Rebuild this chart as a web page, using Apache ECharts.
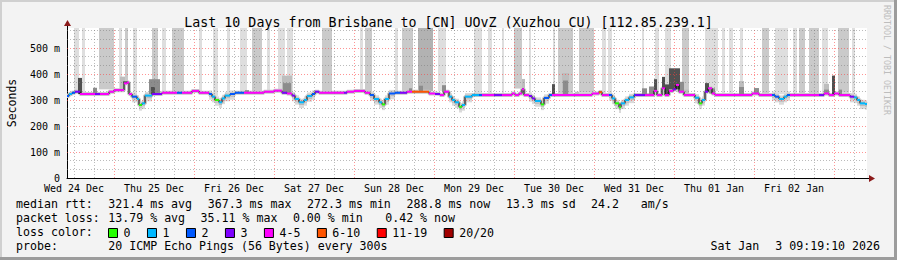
<!DOCTYPE html>
<html><head><meta charset="utf-8">
<script src="https://cdn.jsdelivr.net/npm/echarts@6/dist/echarts.min.js"></script>
<style>html,body{margin:0;padding:0;background:#f3f3f3}#c{width:897px;height:260px}</style>
</head><body><div id="c"></div>
<script>
// ---------- data ----------
const TITLE = 'Last 10 Days from Brisbane to [CN] UOvZ (Xuzhou CU) [112.85.239.1]';
const dayLabels = ['Wed 24 Dec','Thu 25 Dec','Fri 26 Dec','Sat 27 Dec','Sun 28 Dec','Mon 29 Dec','Tue 30 Dec','Wed 31 Dec','Thu 01 Jan','Fri 02 Jan'];
const windowHours = 240;          // 10 days
const firstNoon = 2.1;            // hours after window start (Wed 24 Dec 12:00)
const firstMidnight = 14.1;       // Thu 25 Dec 00:00
const yMax = 577;                 // ms
const yMajor = [100, 200, 300, 400, 500];
const yMinor = [33.3, 66.7, 133.3, 166.7, 233.3, 266.7, 333.3, 366.7, 433.3, 466.7, 533.3, 566.7];
const lossNames = ['0','1','2','3','4-5','6-10','11-19','20/20'];
const lossColors = ['#26ff00','#00b8ff','#0059ff','#7e00ff','#ff00ff','#ff5500','#ff0000','#a10000'];

// median rtt steps: [hour since start, median ms, loss class index]
const medianSteps = [
 [0.0,315,2],[0.6,323,1],[1.5,328,2],[2.4,332,3],[3.9,323,4],[8.4,323,3],[9.9,323,4],[12.6,332,4],
 [14.1,338,4],[17.1,364,4],[18.0,367,4],[18.6,323,4],[19.5,313,2],[21.0,304,1],[21.6,281,0],[22.5,287,1],
 [23.4,317,1],[25.5,323,3],[28.5,328,4],[33.0,328,2],[34.5,328,4],[37.5,335,4],[39.6,328,4],[42.6,323,2],
 [43.5,313,1],[44.4,300,0],[45.6,291,1],[46.5,306,1],[47.4,317,1],[48.9,323,2],[50.4,328,2],[53.1,328,4],
 [59.1,332,4],[62.1,336,4],[64.5,328,3],[66.0,325,4],[67.5,317,3],[68.4,304,1],[69.6,291,1],[71.1,300,1],
 [72.0,315,1],[73.5,323,2],[74.4,332,3],[75.6,328,4],[83.1,328,3],[84.0,332,4],[86.1,335,4],[89.4,328,4],
 [90.9,319,2],[92.1,304,1],[93.6,291,1],[94.5,283,0],[95.4,304,1],[96.6,325,2],[98.4,328,2],[99.9,328,3],
 [102.0,332,4],[103.5,332,5],[108.6,325,4],[110.4,323,3],[111.9,319,4],[113.1,332,4],[114.6,313,1],[115.5,300,1],
 [116.4,291,1],[117.6,274,0],[118.5,281,1],[119.4,313,1],[121.5,319,1],[123.6,319,2],[124.5,319,4],[128.1,319,3],
 [130.5,319,4],[133.5,325,4],[134.4,319,4],[135.6,325,4],[136.5,341,4],[137.1,319,4],[138.6,315,3],[139.5,306,3],
 [140.4,296,1],[142.2,283,0],[143.1,308,2],[144.6,319,2],[145.5,319,4],[157.5,325,4],[159.6,330,5],[160.5,319,4],
 [162.6,319,2],[163.5,306,1],[164.4,287,0],[165.6,272,0],[166.2,287,1],[167.4,300,1],[168.6,310,1],[170.1,319,2],
 [170.4,319,3],[173.4,319,4],[176.1,335,4],[177.0,319,4],[178.5,345,4],[179.4,319,4],[180.6,335,4],[181.8,341,3],
 [182.7,358,4],[183.6,332,4],[185.1,319,4],[188.4,309,1],[189.6,287,0],[190.5,300,1],[191.4,332,3],[192.3,345,4],
 [193.5,325,4],[194.4,319,4],[205.5,325,4],[207.6,319,4],[211.5,319,2],[212.4,313,2],[213.6,304,1],[215.1,313,1],
 [216.0,319,2],[216.9,319,4],[225.6,319,3],[227.1,325,4],[228.6,319,4],[230.1,325,4],[231.6,319,4],[234.9,313,3],
 [236.1,310,1],[237.0,300,1],[237.9,287,1],[239.4,285,1],[240.0,285,1]
];
// periods with lost pings (full-height grey): [from h, to h, shade level]
const lossBars = [
 [2.1,3.6,1],[4.5,5.4,1],[9.6,14.1,2],[15.6,16.5,1],[17.4,18.3,2],[19.8,21.0,1],[25.5,27.3,2],[28.5,29.7,1],
 [31.5,35.1,2],[39.6,40.5,1],[43.8,45.3,1],[48.0,48.9,1],[51.9,54.0,1],[55.5,58.5,2],[60.0,60.9,1],[63.3,65.4,1],
 [66.0,67.8,1],[76.5,79.5,2],[87.9,88.8,1],[89.4,91.5,2],[98.4,99.3,1],[100.5,103.8,2],[105.3,109.8,3],[111.3,113.7,1],
 [122.1,124.5,1],[126.3,127.5,1],[130.5,131.1,1],[134.1,136.5,2],[138.6,139.2,1],[145.8,146.4,1],[147.3,151.8,2],[153.6,158.1,2],
 [160.5,161.7,1],[162.3,163.5,1],[172.5,173.1,1],[176.4,177.6,1],[179.4,181.2,1],[184.5,186.6,2],[191.4,195.3,1],[196.5,197.4,1],
 [198.6,199.8,1],[201.9,202.8,1],[208.5,210.6,2],[212.4,216.3,1],[217.8,219.0,1],[219.6,221.4,2],[222.6,225.6,2],[226.5,228.3,1],
 [231.3,234.6,2],[235.5,236.4,1]
];
// upward smoke: [from h, to h, top ms, shade level]
const smokeSpikes = [
 [3.3,4.5,385,3],[7.8,9.0,347,2],[15.9,17.4,390,1],[16.8,18.3,372,3],[24.6,27.9,380,2],[25.2,26.4,350,3],
 [53.4,54.6,338,2],[64.5,67.5,394,1],[64.8,67.2,365,2],[102.6,103.5,345,2],[105.6,106.8,355,2],[112.5,113.7,357,2],
 [136.5,137.4,381,1],[136.5,137.1,345,3],[145.5,146.4,361,3],[148.5,150.6,404,1],[148.8,150.3,375,2],[152.4,153.6,332,1],
 [159.6,160.5,335,2],[172.5,174.0,345,2],[174.6,176.1,352,2],[176.1,177.0,380,3],[178.5,179.4,389,3],[179.4,180.6,360,3],
 [180.6,183.9,422,3],[183.9,185.1,370,2],[185.1,186.6,340,1],[191.4,192.6,365,3],[192.6,194.4,345,2],[201.6,203.1,373,1],
 [201.6,203.1,350,2],[206.1,207.6,346,2],[227.1,228.6,362,1],[227.1,228.6,340,2],[229.5,230.4,394,3],[231.6,232.5,340,2]
];
// latency dips with wider smoke: [from h, to h]
const dipWindows = [[19.0,25.5],[42.6,50.4],[67.5,74.4],[90.9,97.5],[114.6,121.5],[138.6,144.6],[162.6,170.4],[188.4,191.4],[211.5,216.9],[234.9,240]];

const rttStats = {avg:'321.4', max:'367.3', min:'272.3', now:'288.8', sd:'13.3', ams:'24.2'};
const lossStats = {avg:'13.79', max:'35.11', min:'0.00', now:'0.42'};
const probeText = '20 ICMP Echo Pings (56 Bytes) every 300s';
const stampLeft = 'Sat Jan', stampRight = '3 09:19:10 2026';

// ---------- helpers ----------
const MONO = '"DejaVu Sans Mono", monospace';
function medianAt(h){ let v = medianSteps[0][1]; for (const s of medianSteps){ if (s[0] <= h) v = s[1]; else break; } return v; }
const barShades = {1:'#dedede', 2:'#cacaca', 3:'#b2b2b2'};
const spikeShades = {1:'#bdbdbd', 2:'#8c8c8c', 3:'#505050'};
function rectShape(api, h0, h1, lo, hi){
  const a = api.coord([h0, hi]), b = api.coord([h1, lo]);
  return {x:a[0], y:a[1], width:Math.max(1, b[0]-a[0]), height:b[1]-a[1]};
}

const noonHours = dayLabels.map((_, i) => firstNoon + 24*i);
const markData = [];
for (let h = firstNoon; h < windowHours; h += 6) {
  const isMid = Math.abs(((h - firstMidnight) % 24 + 24) % 24) < 0.01;
  markData.push({xAxis: h, lineStyle: isMid ? {color:'rgba(255,60,60,0.55)', type:[1,2], width:1} : {color:'rgba(120,120,120,0.5)', type:[1,2], width:1}});
}
yMinor.forEach(v => markData.push({yAxis: v, lineStyle:{color:'rgba(120,120,120,0.5)', type:[1,2], width:1}}));
yMajor.forEach(v => markData.push({yAxis: v, lineStyle:{color:'rgba(255,60,60,0.55)', type:[1,2], width:1}}));

const series = [];
series.push({
  type:'custom', name:'lossbars', silent:true, z:1,
  data: lossBars.map(b => [b[0], b[1], b[2], Math.max(medianAt(b[0]), medianAt(b[1]))]),
  renderItem:(p, api) => ({type:'rect', shape: rectShape(api, api.value(0), api.value(1), api.value(3)+3, yMax), style:{fill: barShades[api.value(2)]}})
});
series.push({
  type:'custom', name:'dipsmoke', silent:true, z:2,
  data: medianSteps.slice(0,-1).map((s,i) => [s[0], medianSteps[i+1][0], s[1]]).filter(d => dipWindows.some(w => d[0] >= w[0] && d[0] < w[1])),
  renderItem:(p, api) => ({type:'group', children:[
    {type:'rect', shape: rectShape(api, api.value(0), api.value(1), api.value(2)-22, api.value(2)+14), style:{fill:'#dadada'}},
    {type:'rect', shape: rectShape(api, api.value(0), api.value(1), api.value(2)-10, api.value(2)+7), style:{fill:'#b0b0b0'}}
  ]})
});
series.push({
  type:'line', name:'smoke', silent:true, z:2, step:'end', symbol:'none',
  data: medianSteps.map(s => [s[0], s[1]]),
  lineStyle:{color:'#c8c8c8', width:4}
});
series.push({
  type:'custom', name:'spikes', silent:true, z:3,
  data: smokeSpikes.map(s => [s[0], s[1], s[2], s[3], medianAt((s[0]+s[1])/2)]),
  renderItem:(p, api) => ({type:'rect', shape: rectShape(api, api.value(0), api.value(1), api.value(4), api.value(2)), style:{fill: spikeShades[api.value(3)]}})
});
series.push({
  type:'line', name:'grid', silent:true, z:4, data:[],
  markLine:{silent:true, symbol:['none','none'], label:{show:false}, animation:false, data: markData}
});
series.push({
  type:'line', name:'median', silent:true, z:5, step:'end', symbol:'none',
  data: medianSteps.map(s => [s[0], s[1]]),
  lineStyle:{color:'#000', width:1}
});
lossNames.forEach((name, c) => {
  const segs = [];
  for (let i = 0; i < medianSteps.length-1; i++) if (medianSteps[i][2] === c) segs.push([medianSteps[i][0], medianSteps[i+1][0], medianSteps[i][1]]);
  series.push({
    type:'custom', name, z:6, silent:true, itemStyle:{color: lossColors[c]},
    data: segs,
    renderItem:(p, api) => { const a = api.coord([api.value(0), api.value(2)]), b = api.coord([api.value(1), api.value(2)]);
      return {type:'line', shape:{x1:a[0], y1:a[1], x2:b[0], y2:b[1]}, style:{stroke: lossColors[c], lineWidth:2}}; }
  });
});

// ---------- legend text rows ----------
const CW = 7.1, X0 = 16, FS = 11.6;
function row(y, tokens){ return tokens.map(([col, t]) => ({type:'text', silent:true, style:{text:t, x: X0 + col*CW, y, fontFamily:MONO, fontSize:FS, lineHeight:11, fill:'#000', verticalAlign:'middle'}})); }
const graphics = [
  {type:'rect', silent:true, z:-10, shape:{x:0,y:0,width:897,height:260}, style:{fill:'#f3f3f3'}},
  {type:'rect', silent:true, z:-10, shape:{x:0,y:0,width:897,height:2}, style:{fill:'#d0d0d0'}},
  {type:'rect', silent:true, z:-10, shape:{x:0,y:0,width:2,height:260}, style:{fill:'#d0d0d0'}},
  {type:'rect', silent:true, z:-10, shape:{x:0,y:257,width:897,height:3}, style:{fill:'#9c9c9c'}},
  {type:'rect', silent:true, z:-10, shape:{x:894,y:0,width:3,height:260}, style:{fill:'#9c9c9c'}},
  {type:'rect', silent:true, z:-9, shape:{x:67,y:28,width:800,height:150}, style:{fill:'#ffffff'}},
  {type:'line', silent:true, shape:{x1:67.5,y1:28,x2:67.5,y2:23}, style:{stroke:'#000', lineWidth:1}},
  {type:'line', silent:true, shape:{x1:867,y1:178.5,x2:870,y2:178.5}, style:{stroke:'#000', lineWidth:1}},
  {type:'polygon', silent:true, shape:{points:[[67.5,20],[64,26],[71,26]]}, style:{fill:'#8b1a1a'}},
  {type:'polygon', silent:true, shape:{points:[[875,178.5],[869,175],[869,182]]}, style:{fill:'#8b1a1a'}},
  {type:'text', silent:true, rotation:Math.PI/2, x:12, y:103, style:{text:'Seconds', fontFamily:MONO, fontSize:11.5, fill:'#000', align:'center', verticalAlign:'middle'}},
  {type:'text', silent:true, rotation:-Math.PI/2, x:887, y:60, style:{text:'RRDTOOL / TOBI OETIKER', fontFamily:MONO, fontSize:8.3, fill:'#bdbdbd', align:'center', verticalAlign:'middle'}},
  ...row(204, [[0,'median rtt:'],[13, rttStats.avg+' ms avg'],[27, rttStats.max+' ms max'],[41, rttStats.min+' ms min'],[55, rttStats.now+' ms now'],[69, rttStats.sd+' ms sd'],[81, rttStats.ams],[88,'am/s']]),
  ...row(218, [[0,'packet loss:'],[13, lossStats.avg+' % avg'],[26, lossStats.max+' % max'],[39, lossStats.min+' % min'],[52, lossStats.now+' % now']]),
  ...row(231.5, [[0,'loss color:']]),
  ...row(246, [[0,'probe:'],[13, probeText]]),
  {type:'text', silent:true, style:{text:stampLeft, x:880 - 17*CW, y:246, fontFamily:MONO, fontSize:FS, lineHeight:11, fill:'#000', align:'right', verticalAlign:'middle'}},
  {type:'text', silent:true, style:{text:stampRight, x:880, y:246, fontFamily:MONO, fontSize:FS, lineHeight:11, fill:'#000', align:'right', verticalAlign:'middle'}}
];

const chart = echarts.init(document.getElementById('c'), null, {renderer:'svg', width:897, height:260});
chart.setOption({
  animation:false,
  backgroundColor:'#f3f3f3',
  title:{text:TITLE, left:'center', top:10, textStyle:{fontFamily:MONO, fontSize:13.3, lineHeight:14, fontWeight:'normal', color:'#000'}},
  grid:{left:67, top:28, width:800, height:150, containLabel:false},
  legend:{data:lossNames, left:108, top:227, padding:0, itemWidth:9, itemHeight:9, itemGap:16.5, icon:'rect', selectedMode:false,
    itemStyle:{borderColor:'#000', borderWidth:1}, textStyle:{fontFamily:MONO, fontSize:FS, lineHeight:9, color:'#000', padding:[0,0,0,1]}},
  xAxis:{type:'value', min:0, max:windowHours, splitLine:{show:false},
    axisLine:{show:true, onZero:false, lineStyle:{color:'#000', width:1}}, axisTick:{show:false},
    axisLabel:{customValues: noonHours, margin:5, fontFamily:MONO, fontSize:10, lineHeight:10, color:'#000',
      formatter:(v)=> dayLabels[Math.round((v - firstNoon)/24)] || ''}},
  yAxis:{type:'value', min:0, max:yMax, interval:100, splitLine:{show:false},
    axisLine:{show:true, lineStyle:{color:'#000', width:1}}, axisTick:{show:false},
    axisLabel:{margin:7, fontFamily:MONO, fontSize:10, lineHeight:8, color:'#000', showMaxLabel:false,
      formatter:(v)=> v % 100 !== 0 ? '' : (v === 0 ? '0' : v + ' m')}},
  graphic: graphics,
  series
});
</script>
</body></html>
